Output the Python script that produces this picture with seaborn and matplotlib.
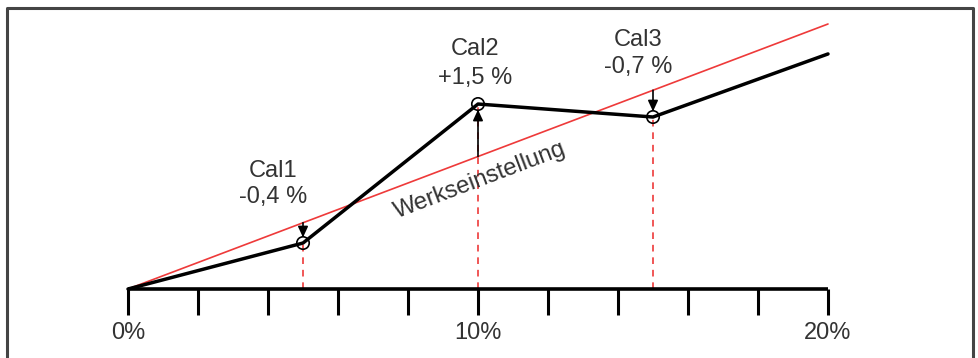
import matplotlib
matplotlib.use("Agg")
import matplotlib.pyplot as plt
from matplotlib.lines import Line2D
import seaborn as sns
import numpy as np

# ---- data ----
x_pct = [0, 5, 10, 15, 20]              # percent positions
measured = [0, 3.47, 13.96, 12.98, 17.74]  # measured curve (arbitrary units)
factory_x = [0, 20]
factory_y = [0, 20]                     # Werkseinstellung line
cal_x = [5, 10, 15]
cal_names = ["Cal1", "Cal2", "Cal3"]
cal_dev = ["-0,4 %", "+1,5 %", "-0,7 %"]
label_x = [4.14, 9.91, 14.57]
name_y = [8.45, 17.66, 18.34]
dev_y = [6.49, 15.47, 16.30]
tick_pos = list(range(0, 21, 2))
tick_labels = {0: "0%", 10: "10%", 20: "20%"}
line_label = "Werkseinstellung"

sns.set_theme(style="white")
plt.rcParams["font.family"] = ["Liberation Sans", "DejaVu Sans"]

W, H = 979, 358
fig = plt.figure(figsize=(W / 100, H / 100), dpi=100)
ax = fig.add_axes([0, 0, 1, 1])
ax.set_axis_off()

px_x = 35.0
px_y = 13.25
x0_px, y0_px = 128, 289
ax.set_xlim(-x0_px / px_x, (W - x0_px) / px_x)
ax.set_ylim(-(H - y0_px) / px_y, y0_px / px_y)

txt_col = "#333333"
red = "#ee3a3a"

# outer frame (open at bottom)
fig.add_artist(Line2D([7.5 / W, 7.5 / W, 973 / W, 973 / W],
                      [0, 1 - 7.5 / H, 1 - 7.5 / H, 0],
                      transform=fig.transFigure, color="#444444", lw=2.2))

# baseline and ticks
ax.plot([0, 20], [0, 0], color="black", lw=2.6, solid_capstyle="butt", zorder=3)
ax.vlines(tick_pos, -26 / px_y, 0, color="black", lw=2.2, zorder=3)
for t, lab in tick_labels.items():
    ax.text(t, -3.32, lab, ha="center", va="center", fontsize=17, color=txt_col)

# dashed verticals
meas_at = dict(zip(x_pct, measured))
for cx in cal_x:
    ax.plot([cx, cx], [0, meas_at[cx]], color=red, lw=1.2, ls=(0, (4, 3.5)), zorder=2)

# factory line
sns.lineplot(x=factory_x, y=factory_y, color=red, lw=1.2, ax=ax, zorder=3)
# measured line
sns.lineplot(x=x_pct, y=measured, color="black", lw=2.5, ax=ax, zorder=4)

# arrows from factory line to measured points
for cx in cal_x:
    ax.annotate("", xy=(cx, meas_at[cx]), xytext=(cx, cx),
                arrowprops=dict(arrowstyle="-|>,head_length=0.65,head_width=0.3",
                                color="black", lw=1.2,
                                mutation_scale=10, shrinkA=0, shrinkB=4),
                zorder=5)

# markers
sns.scatterplot(x=cal_x, y=[meas_at[c] for c in cal_x], s=80, marker="o",
                facecolor="none", edgecolor="black", linewidth=1.2, ax=ax, zorder=6)

# labels
for lx, ny, dy, n, d in zip(label_x, name_y, dev_y, cal_names, cal_dev):
    ax.text(lx, ny, n, ha="center", va="baseline", fontsize=17, color=txt_col)
    ax.text(lx, dy, d, ha="center", va="baseline", fontsize=17, color=txt_col)

angle = np.degrees(np.arctan2(265, 698))
ax.text(10.06, 8.22, line_label, rotation=angle, rotation_mode="anchor",
        ha="center", va="center", fontsize=17.3, color=txt_col)

fig.savefig("out.png", dpi=100)
